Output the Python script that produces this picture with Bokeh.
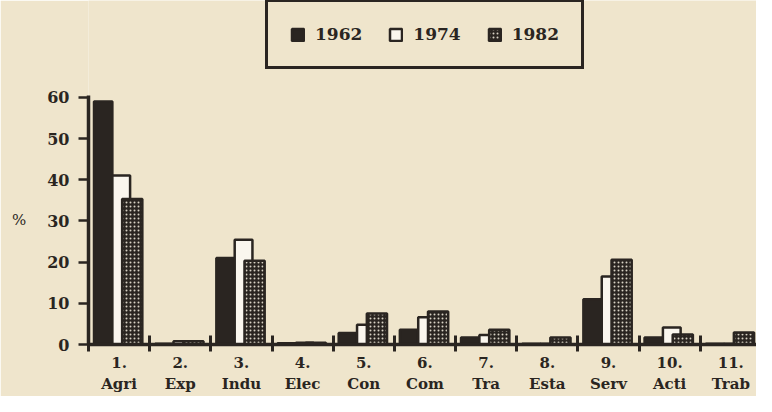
from bokeh.plotting import figure
from bokeh.models import FixedTicker, Legend, LegendItem, ColumnDataSource, Range1d
from bokeh.embed import file_html
from bokeh.resources import INLINE

categories = ["1.\nAgri", "2.\nExp", "3.\nIndu", "4.\nElec", "5.\nCon", "6.\nCom",
              "7.\nTra", "8.\nEsta", "9.\nServ", "10.\nActi", "11.\nTrab"]
v1962 = [59.0, 0.2, 21.0, 0.3, 2.8, 3.6, 1.7, 0.2, 11.0, 1.7, 0.2]
v1974 = [41.0, 0.8, 25.4, 0.4, 4.8, 6.6, 2.3, 0.2, 16.5, 4.1, 0.2]
v1982 = [35.3, 0.8, 20.3, 0.4, 7.5, 8.0, 3.6, 1.7, 20.6, 2.4, 2.9]
y_ticks = [0, 10, 20, 30, 40, 50, 60]

INK = "#2a2521"
PAPER = "#efe5cc"
FONT = "DejaVu Serif"

n = len(categories)
centers = [i + 0.5 for i in range(n)]

p = figure(width=756, height=396, output_backend="svg", toolbar_location=None,
           x_range=Range1d(0, 10.92), y_range=Range1d(0, 83.5),
           min_border_left=88, min_border_right=0, min_border_top=0, min_border_bottom=51)
p.background_fill_color = PAPER
p.border_fill_color = PAPER
p.outline_line_color = None
p.grid.visible = False

src = ColumnDataSource(dict(
    x62=[c - 0.26 for c in centers], x74=[c + 0.035 for c in centers], x82=[c + 0.215 for c in centers],
    v62=v1962, v74=v1974, v82=v1982))

r62 = p.vbar(x="x62", top="v62", width=0.30, bottom=0, source=src,
             fill_color=INK, line_color=INK, line_width=2.5)
r74 = p.vbar(x="x74", top="v74", width=0.29, bottom=0, source=src,
             fill_color="#faf6ee", line_color=INK, line_width=2.5)
r82 = p.vbar(x="x82", top="v82", width=0.33, bottom=0, source=src,
             fill_color=INK, line_color=INK, line_width=2.5,
             hatch_pattern="dot", hatch_color="#d8d2c4", hatch_scale=4, hatch_weight=1.5)

# y axis
ya = p.yaxis[0]
ya.ticker = FixedTicker(ticks=y_ticks)
ya.bounds = (0, 60.5)
ya.axis_line_width = 3.5
ya.axis_line_color = INK
ya.major_tick_line_width = 2.5
ya.major_tick_line_color = INK
ya.major_tick_out = 10
ya.major_tick_in = 0
ya.minor_tick_line_color = None
ya.major_label_standoff = 9
ya.major_label_text_font = FONT
ya.major_label_text_font_style = "bold"
ya.major_label_text_font_size = "16px"
ya.major_label_text_color = INK
ya.axis_label = "\n\n\n\n\n%"
ya.axis_label_orientation = "horizontal"
ya.axis_label_standoff = 18
ya.axis_label_text_font = FONT
ya.axis_label_text_font_style = "normal"
ya.axis_label_text_font_size = "15px"
ya.axis_label_text_line_height = 1.05
ya.axis_label_text_color = INK

# x axis
xa = p.xaxis[0]
xa.ticker = FixedTicker(ticks=centers, minor_ticks=list(range(n + 1)))
xa.major_label_overrides = {c: lab for c, lab in zip(centers, categories)}
xa.axis_line_width = 3.5
xa.axis_line_color = INK
xa.major_tick_line_color = None
xa.major_tick_in = 0
xa.major_tick_out = 0
xa.minor_tick_line_color = INK
xa.minor_tick_line_width = 3
xa.minor_tick_in = 9
xa.minor_tick_out = 7
xa.major_label_standoff = 2
xa.major_label_text_font = FONT
xa.major_label_text_font_style = "bold"
xa.major_label_text_font_size = "15px"
xa.major_label_text_color = INK
xa.major_label_text_line_height = 1.2

legend = Legend(items=[LegendItem(label="1962", renderers=[r62]),
                       LegendItem(label="1974", renderers=[r74]),
                       LegendItem(label="1982", renderers=[r82])],
                orientation="horizontal", location=(177, 275))
legend.glyph_width = 15
legend.glyph_height = 15
legend.label_height = 15
legend.label_standoff = 10
legend.spacing = 26
legend.padding = 22
legend.margin = 0
legend.border_line_color = INK
legend.border_line_width = 3
legend.border_line_alpha = 1
legend.background_fill_color = PAPER
legend.background_fill_alpha = 1
legend.label_text_font = FONT
legend.label_text_font_style = "bold"
legend.label_text_font_size = "17px"
legend.label_text_color = INK
p.add_layout(legend, "center")

open("out.html", "w").write(file_html(p, INLINE))
